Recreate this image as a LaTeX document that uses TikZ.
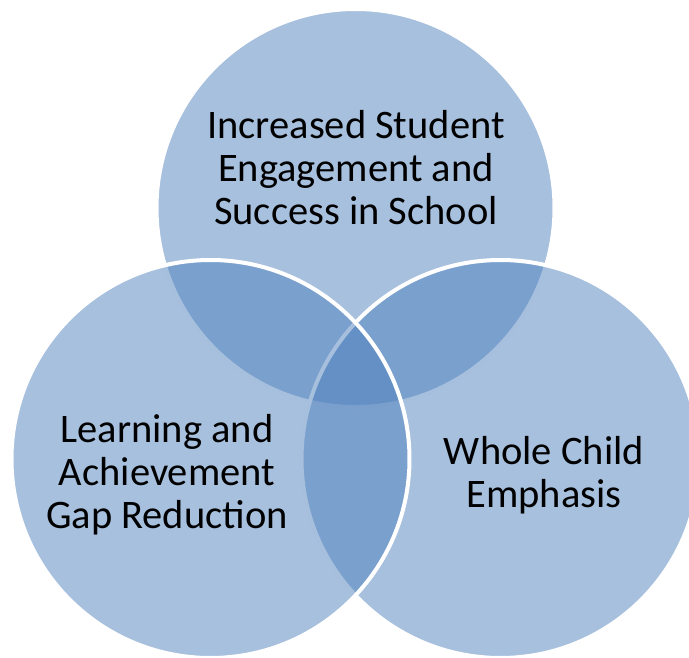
\documentclass[tikz,border=0pt]{standalone}
\usepackage{fontspec}
\setmainfont{Carlito}
\usepackage{tikz}

\definecolor{vennblue}{RGB}{79,129,189}

\begin{document}
\begin{tikzpicture}[
			x=1pt, y=-1pt,
			every node/.style={font=\fontsize{40.5}{43}\selectfont},
			vset/.style={circle, draw=white, line width=4pt, fill=vennblue, fill opacity=0.5, minimum size=398pt, inner sep=0pt},
			vtext/.style={align=center, text=black, inner sep=0pt}
			]
			\useasboundingbox (0,0) rectangle (689,658);
			\node[vset] (c1) at (355.5,208) {};
			\node[vset] (c3) at (500.5,459) {};
			\node[vset] (c2) at (210.5,459) {};
			
			\node[vtext] (t1) at (356,168) {Increased Student\\Engagement and\\Success in School};
			\node[vtext] (t2) at (167,475) {Learning and\\Achievement\\Gap Reduction};
			\node[vtext] (t3) at (544,475) {Whole Child\\Emphasis};
		\end{tikzpicture}
\end{document}
